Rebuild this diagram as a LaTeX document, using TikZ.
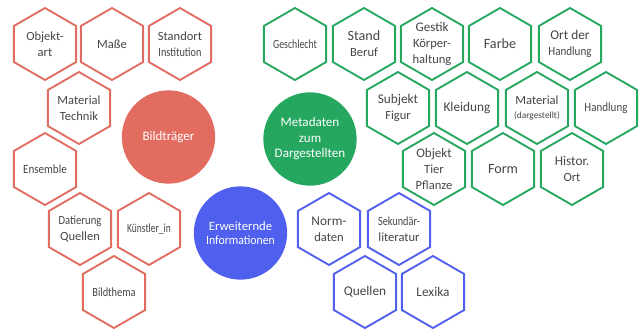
\documentclass[tikz,border=0pt]{standalone}
\usepackage{fontspec}
\setmainfont{Carlito}
\usepackage{graphicx}
\usetikzlibrary{shapes.geometric}
\definecolor{redc}{RGB}{227,108,96}
\definecolor{greenc}{RGB}{38,167,96}
\definecolor{bluec}{RGB}{80,96,238}
\definecolor{txtc}{RGB}{70,70,70}
\newcommand{\sq}[2]{\scalebox{#1}[1]{#2}}
\newcommand{\hexnode}[4]{%
  \node[hexbase,draw=#2] (#1) at (#3) {};
  \node[hextxt] (#1t) at (#1) {#4};}
\tikzset{
  hexbase/.style={regular polygon, regular polygon sides=6, shape border rotate=30,
    minimum size=54pt, inner sep=0pt, line width=1.4pt, fill=white},
  hextxt/.style={align=center, text=txtc, inner sep=0pt, font=\fontsize{9.4pt}{12pt}\selectfont},
  bigc/.style={circle, minimum size=70pt, inner sep=0pt, text=white, align=center,
    font=\fontsize{9.8pt}{11.6pt}\selectfont},
}
\begin{document}
\begin{tikzpicture}[x=0.75pt,y=-0.75pt]
\useasboundingbox (0,0) rectangle (640,329);
% circles
\node[bigc, fill=redc] (bild) at (168.5,137) {Bildträger};
\node[bigc, fill=greenc] (meta) at (310,139) {Metadaten\\zum\\Dargestellten};
\node[bigc, fill=bluec, font=\fontsize{9.5pt}{11pt}\selectfont] (erw) at (240.5,233) {Erweiternde\\\sq{0.93}{Informationen}};
% red hexagons
\hexnode{r1}{redc}{45,44}{Objekt-\\art}
\hexnode{r2}{redc}{112,44}{Maße}
\hexnode{r3}{redc}{180,44}{Standort\\\sq{0.82}{Institution}}
\hexnode{r4}{redc}{79,108}{Material\\Technik}
\hexnode{r5}{redc}{45,169}{\sq{0.88}{Ensemble}}
\hexnode{r6}{redc}{80,229}{\sq{0.85}{Datierung}\\Quellen}
\hexnode{r7}{redc}{149,229}{\sq{0.76}{Künstler\_in}}
\hexnode{r8}{redc}{114,292}{\sq{0.83}{Bildthema}}
% green hexagons
\hexnode{g1}{greenc}{295,44}{\sq{0.78}{Geschlecht}}
\hexnode{g2}{greenc}{364,44}{\fontsize{10.6pt}{12.5pt}\selectfont Stand\\Beruf}
\hexnode{g3}{greenc}{432,44}{\fontsize{9.8pt}{12.5pt}\selectfont Gestik\\Körper-\\haltung}
\hexnode{g4}{greenc}{500,44}{\fontsize{10.6pt}{12.5pt}\selectfont Farbe}
\hexnode{g5}{greenc}{570,44}{\fontsize{10pt}{12.5pt}\selectfont Ort der\\\sq{0.88}{Handlung}}
\hexnode{g6}{greenc}{398,108}{\fontsize{10pt}{12.5pt}\selectfont Subjekt\\Figur}
\hexnode{g7}{greenc}{467,108}{\fontsize{10pt}{12.5pt}\selectfont Kleidung}
\hexnode{g8}{greenc}{537,108}{Material\\[-2pt]{\fontsize{7pt}{8pt}\selectfont (dargestellt)}}
\hexnode{g9}{greenc}{606,108}{\sq{0.88}{Handlung}}
\hexnode{g10}{greenc}{434,169}{\fontsize{9.8pt}{12.5pt}\selectfont Objekt\\Tier\\Pflanze}
\hexnode{g11}{greenc}{503,169}{\fontsize{10.6pt}{12.5pt}\selectfont Form}
\hexnode{g12}{greenc}{572,169}{\fontsize{10pt}{12.5pt}\selectfont Histor.\\Ort}
% blue hexagons
\hexnode{b1}{bluec}{329,229}{\fontsize{10pt}{12.2pt}\selectfont Norm-\\daten}
\hexnode{b2}{bluec}{399,229}{\sq{0.82}{Sekundär-}\\literatur}
\hexnode{b3}{bluec}{365,292}{\fontsize{10pt}{12pt}\selectfont Quellen}
\hexnode{b4}{bluec}{433,292}{\fontsize{10pt}{12pt}\selectfont Lexika}
\end{tikzpicture}
\end{document}
